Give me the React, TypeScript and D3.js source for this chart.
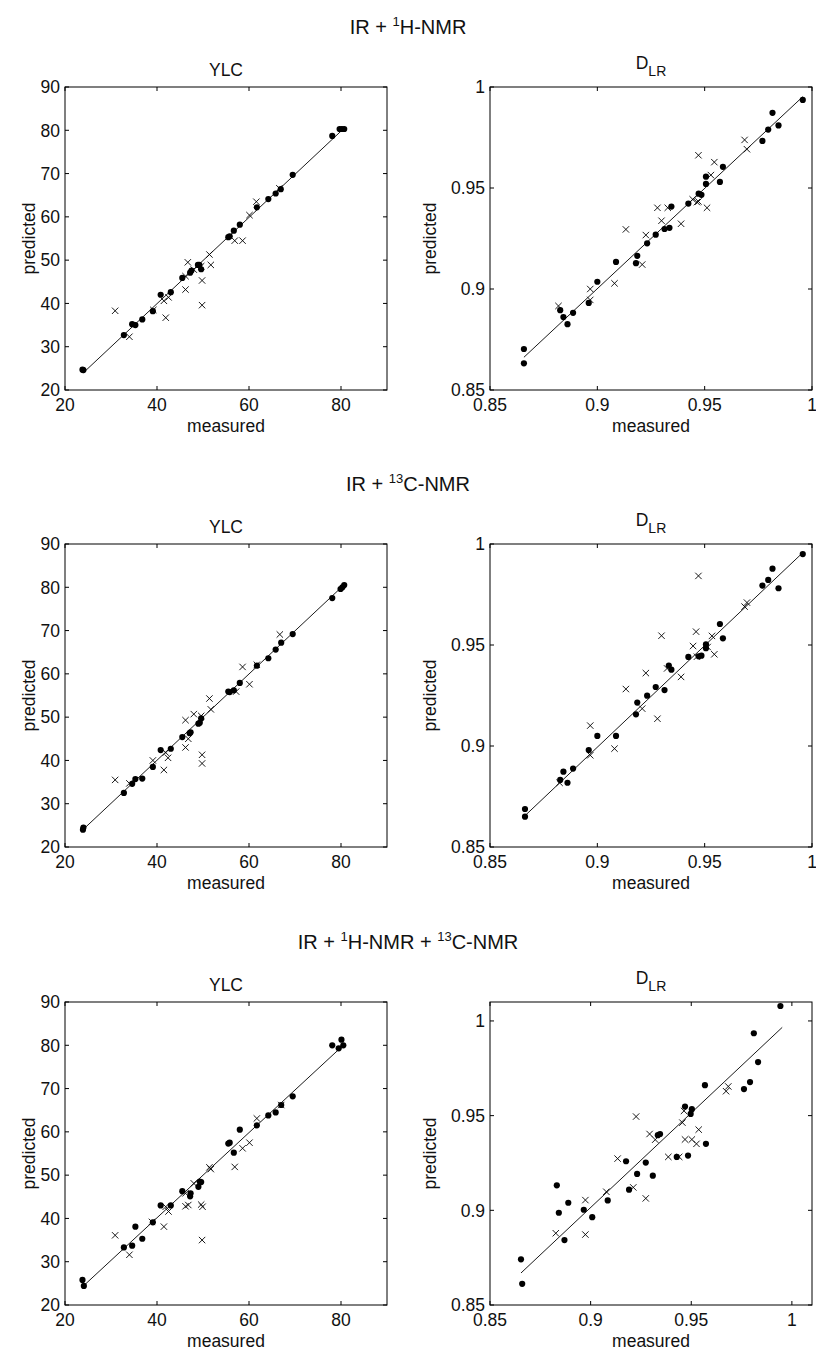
import React from 'react';
import * as d3 from 'd3';

const FONT = '"Liberation Sans", Arial, Helvetica, sans-serif';

// ---------- Data (measured vs predicted) ----------
// Row 1: IR + 1H-NMR
const ylc1CalX = [23.8, 24.0, 32.8, 34.6, 35.3, 36.8, 39.1, 40.8, 43.0, 45.5, 47.2, 47.5, 48.9, 49.2, 49.6, 55.5, 55.8, 56.7, 58.0, 61.7, 64.2, 65.8, 66.9, 69.5, 78.1, 79.7, 80.2, 80.7];
const ylc1CalY = [24.7, 24.6, 32.7, 35.2, 35.0, 36.3, 38.2, 42.0, 42.6, 45.9, 47.1, 47.6, 48.9, 48.9, 47.9, 55.3, 55.5, 56.8, 58.2, 62.2, 64.1, 65.4, 66.4, 69.7, 78.7, 80.3, 80.3, 80.3];
const ylc1ValX = [30.9, 34.0, 39.2, 41.5, 41.9, 42.5, 46.2, 46.2, 46.7, 48.0, 49.6, 49.8, 49.8, 51.4, 51.7, 56.9, 58.6, 60.1, 61.6, 66.6];
const ylc1ValY = [38.3, 32.3, 38.5, 40.6, 36.7, 41.4, 43.2, 46.3, 49.5, 47.8, 48.6, 45.3, 39.6, 51.3, 48.9, 54.5, 54.5, 60.4, 63.5, 66.6];
const ylc1Fit = [23.9, 23.9, 80.7, 80.5];

const dlr1CalX = [0.8658, 0.8658, 0.8827, 0.8842, 0.8861, 0.8887, 0.8960, 0.9000, 0.9087, 0.9180, 0.9186, 0.9232, 0.9272, 0.9313, 0.9336, 0.9345, 0.9424, 0.9472, 0.9485, 0.9506, 0.9506, 0.9571, 0.9585, 0.9769, 0.9796, 0.9816, 0.9844, 0.9957];
const dlr1CalY = [0.8703, 0.8632, 0.8895, 0.8861, 0.8826, 0.8882, 0.8931, 0.9036, 0.9134, 0.9128, 0.9164, 0.9226, 0.9269, 0.9297, 0.9303, 0.9408, 0.9423, 0.9472, 0.9466, 0.9556, 0.9520, 0.9530, 0.9605, 0.9733, 0.9789, 0.9872, 0.9810, 0.9936];
const dlr1ValX = [0.8819, 0.8967, 0.8967, 0.9080, 0.9133, 0.9209, 0.9226, 0.9280, 0.9299, 0.9328, 0.9390, 0.9444, 0.9464, 0.9471, 0.9471, 0.9511, 0.9529, 0.9545, 0.9686, 0.9697];
const dlr1ValY = [0.8916, 0.9000, 0.8946, 0.9028, 0.9295, 0.9121, 0.9267, 0.9402, 0.9338, 0.9402, 0.9323, 0.9444, 0.9430, 0.9433, 0.9662, 0.9402, 0.9564, 0.9628, 0.9738, 0.9692];
const dlr1Fit = [0.8658, 0.8662, 0.9957, 0.9952];

// Row 2: IR + 13C-NMR
const ylc2CalX = [23.9, 24.0, 32.8, 34.6, 35.3, 36.8, 39.1, 40.8, 43.0, 45.5, 47.1, 47.3, 49.0, 49.3, 49.6, 55.5, 55.8, 56.7, 58.0, 61.7, 64.2, 65.8, 67.0, 69.5, 78.1, 79.9, 80.3, 80.7];
const ylc2CalY = [24.0, 24.5, 32.5, 34.6, 35.7, 35.8, 38.5, 42.4, 42.7, 45.4, 46.3, 46.5, 48.5, 48.7, 49.7, 55.9, 55.8, 56.2, 57.9, 61.9, 63.6, 65.6, 67.2, 69.2, 77.5, 79.6, 80.0, 80.5];
const ylc2ValX = [30.9, 34.0, 39.1, 41.5, 41.9, 42.4, 46.2, 46.2, 46.8, 48.0, 49.6, 49.8, 49.8, 51.4, 51.7, 57.2, 58.6, 60.1, 61.7, 66.7];
const ylc2ValY = [35.5, 34.7, 40.0, 37.8, 41.8, 40.6, 43.0, 49.3, 45.0, 50.7, 50.3, 41.3, 39.3, 54.3, 51.8, 55.9, 61.6, 57.6, 62.1, 69.1];
const ylc2Fit = [23.9, 24.0, 80.7, 80.6];

const dlr2CalX = [0.8663, 0.8663, 0.8827, 0.8842, 0.8861, 0.8887, 0.8960, 0.9000, 0.9087, 0.9180, 0.9186, 0.9232, 0.9272, 0.9313, 0.9333, 0.9345, 0.9424, 0.9472, 0.9485, 0.9506, 0.9506, 0.9571, 0.9585, 0.9769, 0.9796, 0.9816, 0.9844, 0.9957];
const dlr2CalY = [0.8688, 0.8650, 0.8832, 0.8873, 0.8818, 0.8888, 0.8980, 0.9050, 0.9050, 0.9157, 0.9215, 0.9249, 0.9292, 0.9277, 0.9398, 0.9378, 0.9441, 0.9444, 0.9447, 0.9503, 0.9484, 0.9604, 0.9533, 0.9794, 0.9822, 0.9878, 0.9781, 0.9950];
const dlr2ValX = [0.8824, 0.8967, 0.8967, 0.9080, 0.9133, 0.9209, 0.9226, 0.9280, 0.9299, 0.9325, 0.9390, 0.9446, 0.9464, 0.9460, 0.9471, 0.9514, 0.9534, 0.9545, 0.9686, 0.9697];
const dlr2ValY = [0.8818, 0.9101, 0.8954, 0.8987, 0.9282, 0.9185, 0.9361, 0.9135, 0.9546, 0.9384, 0.9342, 0.9495, 0.9442, 0.9566, 0.9842, 0.9490, 0.9545, 0.9454, 0.9690, 0.9710];
const dlr2Fit = [0.8663, 0.8655, 0.9957, 0.9957];

// Row 3: IR + 1H-NMR + 13C-NMR
const ylc3CalX = [23.8, 24.1, 32.8, 34.6, 35.3, 36.8, 39.1, 40.8, 43.0, 45.5, 47.2, 47.3, 49.0, 49.3, 49.6, 55.5, 55.8, 56.7, 58.0, 61.7, 64.2, 65.8, 67.0, 69.5, 78.1, 79.5, 80.1, 80.5];
const ylc3CalY = [25.8, 24.4, 33.3, 33.7, 38.1, 35.3, 39.1, 43.0, 43.0, 46.3, 45.1, 45.8, 47.3, 48.5, 48.4, 57.3, 57.5, 55.2, 60.5, 61.5, 63.8, 64.5, 66.2, 68.2, 80.0, 79.3, 81.3, 80.0];
const ylc3ValX = [30.9, 34.0, 38.9, 41.5, 41.9, 42.5, 46.2, 46.2, 46.8, 48.0, 49.6, 49.9, 49.8, 51.4, 51.7, 56.9, 58.6, 60.1, 61.7, 67.0];
const ylc3ValY = [36.1, 31.6, 39.2, 38.1, 42.7, 41.6, 45.8, 42.8, 43.1, 48.1, 43.2, 42.7, 35.0, 51.8, 51.4, 51.9, 56.2, 57.5, 63.1, 66.2];
const ylc3Fit = [24.1, 24.5, 80.6, 80.1];

const dlr3CalX = [0.8654, 0.8660, 0.8832, 0.8842, 0.8870, 0.8889, 0.8966, 0.9008, 0.9085, 0.9176, 0.9191, 0.9231, 0.9274, 0.9309, 0.9334, 0.9345, 0.9428, 0.9469, 0.9484, 0.9497, 0.9503, 0.9568, 0.9573, 0.9762, 0.9792, 0.9811, 0.9832, 0.9943];
const dlr3CalY = [0.8741, 0.8612, 0.9132, 0.8987, 0.8843, 0.9040, 0.9003, 0.8964, 0.9052, 0.9259, 0.9109, 0.9192, 0.9252, 0.9183, 0.9397, 0.9403, 0.9282, 0.9548, 0.9289, 0.9509, 0.9534, 0.9661, 0.9351, 0.9640, 0.9677, 0.9935, 0.9783, 1.0079];
const dlr3ValX = [0.8827, 0.8974, 0.8974, 0.9078, 0.9134, 0.9212, 0.9226, 0.9274, 0.9293, 0.9321, 0.9386, 0.9440, 0.9456, 0.9464, 0.9469, 0.9503, 0.9526, 0.9537, 0.9673, 0.9684];
const dlr3ValY = [0.8879, 0.9054, 0.8872, 0.9098, 0.9273, 0.9121, 0.9495, 0.9063, 0.9403, 0.9373, 0.9282, 0.9282, 0.9463, 0.9525, 0.9374, 0.9374, 0.9351, 0.9426, 0.9629, 0.9654];
const dlr3Fit = [0.8654, 0.8669, 0.9952, 0.9966];

// ---------- Axis settings ----------
const ylcDomain = [20, 90];
const ylcXTicks = [20, 40, 60, 80];
const ylcYTicks = [20, 30, 40, 50, 60, 70, 80, 90];
const dlrDomain = [0.85, 1.0];
const dlrDomainWide = [0.85, 1.01];
const dlrTicks = [0.85, 0.9, 0.95, 1];

const sectionTitles = [
  [{ t: 'IR + ' }, { t: '1', sup: true }, { t: 'H-NMR' }],
  [{ t: 'IR + ' }, { t: '13', sup: true }, { t: 'C-NMR' }],
  [{ t: 'IR + ' }, { t: '1', sup: true }, { t: 'H-NMR + ' }, { t: '13', sup: true }, { t: 'C-NMR' }],
];

const W = 816;
const H = 1356;
const rowTops = [87, 544, 1002];
const PH = 303;
const leftX = [65, 387];
const rightX = [490, 812];
const FS = 17.5;

type Seg = { t: string; sup?: boolean };

function Cross({ x, y }: { x: number; y: number }) {
  const s = 3.2;
  return (
    <path d={`M${x - s},${y - s}L${x + s},${y + s}M${x - s},${y + s}L${x + s},${y - s}`} stroke="#000" strokeWidth={0.9} fill="none" />
  );
}

function Panel(props: {
  x0: number; x1: number; y0: number; y1: number;
  xDomain: number[]; yDomain: number[];
  xTicks: number[]; yTicks: number[];
  calX: number[]; calY: number[]; valX: number[]; valY: number[]; fit: number[];
  title: 'YLC' | 'DLR'; ylabelX: number;
}) {
  const { x0, x1, y0, y1, xDomain, yDomain, xTicks, yTicks, calX, calY, valX, valY, fit, title, ylabelX } = props;
  const xs = d3.scaleLinear().domain(xDomain).range([x0, x1]);
  const ys = d3.scaleLinear().domain(yDomain).range([y1, y0]);
  const fmt = (v: number) => d3.format('~g')(v);
  const tl = 4;
  const line = d3.line<number[]>().x(d => xs(d[0])).y(d => ys(d[1]));
  const cx = (x0 + x1) / 2;
  const cy = (y0 + y1) / 2;
  return (
    <g>
      <path d={line([[fit[0], fit[1]], [fit[2], fit[3]]]) || ''} stroke="#000" strokeWidth={0.9} fill="none" />
      {calX.map((v, i) => (
        <circle key={'c' + i} cx={xs(v)} cy={ys(calY[i])} r={3.1} fill="#000" />
      ))}
      {valX.map((v, i) => (
        <Cross key={'v' + i} x={xs(v)} y={ys(valY[i])} />
      ))}
      <rect x={x0} y={y0} width={x1 - x0} height={y1 - y0} fill="none" stroke="#000" strokeWidth={1} />
      {xTicks.map((t, i) => (
        <g key={'xt' + i}>
          <line x1={xs(t)} x2={xs(t)} y1={y1} y2={y1 - tl} stroke="#000" strokeWidth={1} />
          <line x1={xs(t)} x2={xs(t)} y1={y0} y2={y0 + tl} stroke="#000" strokeWidth={1} />
          <text x={xs(t)} y={y1 + 21} textAnchor="middle" fontSize={FS} fontFamily={FONT} fill="#111">{fmt(t)}</text>
        </g>
      ))}
      {yTicks.map((t, i) => (
        <g key={'yt' + i}>
          <line x1={x0} x2={x0 + tl} y1={ys(t)} y2={ys(t)} stroke="#000" strokeWidth={1} />
          <line x1={x1} x2={x1 - tl} y1={ys(t)} y2={ys(t)} stroke="#000" strokeWidth={1} />
          <text x={x0 - 5} y={ys(t)} dy="0.36em" textAnchor="end" fontSize={FS} fontFamily={FONT} fill="#111">{fmt(t)}</text>
        </g>
      ))}
      <text x={cx} y={y1 + 42} textAnchor="middle" fontSize={FS} fontFamily={FONT} fill="#111">measured</text>
      <text transform={`translate(${ylabelX},${cy}) rotate(-90)`} textAnchor="middle" fontSize={FS} fontFamily={FONT} fill="#111">predicted</text>
      {title === 'YLC' ? (
        <text x={cx} y={y0 - 11.5} textAnchor="middle" fontSize={FS} fontFamily={FONT} fill="#111">YLC</text>
      ) : (
        <text x={cx} y={y0 - 18} textAnchor="middle" fontSize={FS} fontFamily={FONT} fill="#111">
          D<tspan fontSize={14} dy={6.5}>LR</tspan>
        </text>
      )}
    </g>
  );
}

function SectionTitle({ segs, y }: { segs: Seg[]; y: number }) {
  let shifted = false;
  return (
    <text x={W / 2} y={y} textAnchor="middle" fontSize={20} fontFamily={FONT} fill="#111">
      {segs.map((s, i) => {
        let dy = 0;
        if (s.sup && !shifted) { dy = -8; shifted = true; }
        else if (!s.sup && shifted) { dy = 8; shifted = false; }
        return (
          <tspan key={i} dy={dy} fontSize={s.sup ? 13 : 20}>{s.t}</tspan>
        );
      })}
    </text>
  );
}

export default function App() {
  const rows = [
    { yl: [ylc1CalX, ylc1CalY, ylc1ValX, ylc1ValY, ylc1Fit], dl: [dlr1CalX, dlr1CalY, dlr1ValX, dlr1ValY, dlr1Fit], dDom: dlrDomain },
    { yl: [ylc2CalX, ylc2CalY, ylc2ValX, ylc2ValY, ylc2Fit], dl: [dlr2CalX, dlr2CalY, dlr2ValX, dlr2ValY, dlr2Fit], dDom: dlrDomain },
    { yl: [ylc3CalX, ylc3CalY, ylc3ValX, ylc3ValY, ylc3Fit], dl: [dlr3CalX, dlr3CalY, dlr3ValX, dlr3ValY, dlr3Fit], dDom: dlrDomainWide },
  ];
  const titleYs = [33.7, 490.7, 948.7];
  return (
    <svg width={W} height={H} style={{ position: 'absolute', left: 0, top: 0, background: '#fff' }}>
      <rect x={0} y={0} width={W} height={H} fill="#fff" />
      {rows.map((r, i) => {
        const y0 = rowTops[i];
        const y1 = y0 + PH;
        return (
          <g key={i}>
            <SectionTitle segs={sectionTitles[i] as Seg[]} y={titleYs[i]} />
            <Panel x0={leftX[0]} x1={leftX[1]} y0={y0} y1={y1} xDomain={ylcDomain} yDomain={ylcDomain}
              xTicks={ylcXTicks} yTicks={ylcYTicks}
              calX={r.yl[0]} calY={r.yl[1]} valX={r.yl[2]} valY={r.yl[3]} fit={r.yl[4]} title="YLC" ylabelX={35} />
            <Panel x0={rightX[0]} x1={rightX[1]} y0={y0} y1={y1} xDomain={r.dDom} yDomain={r.dDom}
              xTicks={dlrTicks} yTicks={dlrTicks}
              calX={r.dl[0]} calY={r.dl[1]} valX={r.dl[2]} valY={r.dl[3]} fit={r.dl[4]} title="DLR" ylabelX={436} />
          </g>
        );
      })}
    </svg>
  );
}
